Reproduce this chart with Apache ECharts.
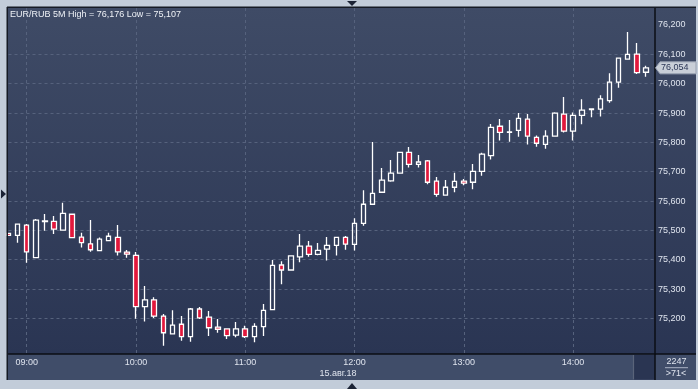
<!DOCTYPE html>
<html><head><meta charset="utf-8">
<script src="https://cdn.jsdelivr.net/npm/echarts@6/dist/echarts.min.js"></script>
<style>html,body{margin:0;padding:0;background:#c2ccd9;}#c{width:698px;height:389px;}</style>
</head><body><div id="c"></div>
<script>
const times = ['08:50','08:55','09:00','09:05','09:10','09:15','09:20','09:25','09:30','09:35','09:40','09:45','09:50','09:55',
'10:00','10:05','10:10','10:15','10:20','10:25','10:30','10:35','10:40','10:45','10:50','10:55',
'11:00','11:05','11:10','11:15','11:20','11:25','11:30','11:35','11:40','11:45','11:50','11:55',
'12:00','12:05','12:10','12:15','12:20','12:25','12:30','12:35','12:40','12:45','12:50','12:55',
'13:00','13:05','13:10','13:15','13:20','13:25','13:30','13:35','13:40','13:45','13:50','13:55',
'14:00','14:05','14:10','14:15','14:20','14:25','14:30','14:35','14:40','14:45'];
const opens  = [75.490,75.483,75.518,75.407,75.530,75.531,75.501,75.555,75.477,75.454,75.431,75.465,75.476,75.426,
75.415,75.240,75.263,75.208,75.147,75.180,75.138,75.232,75.204,75.170,75.164,75.143,
75.164,75.138,75.172,75.230,75.382,75.365,75.410,75.446,75.418,75.436,75.449,75.476,
75.452,75.524,75.589,75.630,75.669,75.695,75.766,75.725,75.737,75.668,75.620,75.647,
75.668,75.664,75.701,75.755,75.855,75.834,75.841,75.879,75.817,75.793,75.821,75.896,
75.838,75.892,75.912,75.913,75.942,76.005,76.084,76.101,76.039];
const closes = [75.483,75.521,75.427,75.535,75.532,75.504,75.558,75.475,75.458,75.434,75.470,75.480,75.427,75.419,
75.240,75.263,75.208,75.151,75.177,75.138,75.232,75.202,75.168,75.163,75.141,75.164,
75.138,75.173,75.227,75.381,75.365,75.413,75.446,75.418,75.432,75.449,75.476,75.453,
75.524,75.589,75.626,75.671,75.695,75.766,75.725,75.733,75.664,75.623,75.647,75.667,
75.661,75.701,75.760,75.851,75.834,75.836,75.882,75.821,75.797,75.821,75.900,75.838,
75.892,75.910,75.914,75.948,76.005,76.087,76.100,76.038,76.054];
const lows   = [75.482,75.458,75.390,75.407,75.499,75.488,75.499,75.474,75.442,75.427,75.430,75.465,75.414,75.407,
75.199,75.189,75.201,75.107,75.145,75.124,75.120,75.198,75.140,75.151,75.130,75.136,
75.133,75.119,75.140,75.229,75.316,75.364,75.391,75.410,75.415,75.397,75.414,75.434,
75.431,75.516,75.589,75.629,75.666,75.694,75.714,75.714,75.657,75.615,75.619,75.630,
75.654,75.640,75.686,75.742,75.806,75.802,75.819,75.793,75.785,75.778,75.820,75.834,
75.806,75.862,75.886,75.888,75.935,75.986,76.082,76.033,76.024];
const highs  = [75.491,75.522,75.522,75.539,75.556,75.549,75.594,75.556,75.492,75.535,75.476,75.492,75.518,75.433,
75.426,75.310,75.272,75.215,75.228,75.208,75.235,75.239,75.225,75.198,75.165,75.188,
75.175,75.183,75.249,75.399,75.395,75.414,75.488,75.464,75.457,75.477,75.477,75.481,
75.541,75.637,75.801,75.713,75.740,75.767,75.784,75.757,75.740,75.682,75.672,75.696,
75.675,75.726,75.765,75.863,75.880,75.876,75.900,75.897,75.823,75.841,75.903,75.955,
75.902,75.947,75.915,75.961,76.036,76.087,76.176,76.139,76.061];
const xLabelTimes = ['09:00','10:00','11:00','12:00','13:00','14:00'];
const yLabelValues = [75.2,75.3,75.4,75.5,75.6,75.7,75.8,75.9,76.0,76.1,76.2];
const yGridValues = [75.2,75.3,75.4,75.5,75.6,75.7,75.8,75.9,76.0,76.1];
const lastPrice = 76.054;
const titleText = 'EUR/RUB 5M High = 76,176 Low = 75,107';
const dateText = '15.авг.18';
const cornerTop = '2247';
const cornerBottom = '>71<';

const FONT = 'Liberation Sans, Arial, sans-serif';
const fmt = v => v.toFixed(3).replace('.', ',');
const chart = echarts.init(document.getElementById('c'), null, {renderer:'canvas'});
const isHour = (i, v) => xLabelTimes.indexOf(v) >= 0;
chart.setOption({
  animation: false,
  grid: {left: 8.5, right: 43, top: 8, bottom: 35, containLabel: false},
  xAxis: {
    type: 'category', data: times, boundaryGap: false,
    axisLine: {show: true, lineStyle: {color: '#0b0e15', width: 1.5}},
    axisTick: {show: false},
    axisLabel: {interval: isHour, color: '#dfe4ee', fontSize: 9, fontFamily: FONT, margin: 4},
    splitLine: {show: true, interval: isHour, lineStyle: {color: '#56627d', type: [3, 3], width: 1}}
  },
  yAxis: {
    type: 'value', position: 'right', min: 75.0786, max: 76.258, scale: true,
    axisLine: {show: true, lineStyle: {color: '#0b0e15', width: 1.5}},
    axisTick: {show: false, customValues: yGridValues},
    axisLabel: {customValues: yLabelValues, formatter: fmt, color: '#dfe4ee', fontSize: 9, fontFamily: FONT, margin: 3},
    splitLine: {show: true, lineStyle: {color: '#56627d', type: [3, 3], width: 1}}
  },
  series: [{
    type: 'candlestick',
    data: opens.map((o, i) => [o, closes[i], lows[i], highs[i]]),
    barWidth: 5,
    clip: true,
    itemStyle: {color: 'rgba(0,0,0,0)', color0: '#e2183c', borderColor: '#ffffff', borderColor0: '#ffffff', borderWidth: 1.3}
  }]
});

const py = chart.convertToPixel({yAxisIndex: 0}, lastPrice);
const dark = '#1b2335';
chart.setOption({
  graphic: [
    {type: 'rect', z: -100, shape: {x: 7, y: 7, width: 689, height: 347},
     style: {fill: {type: 'linear', x: 0, y: 0, x2: 0, y2: 1, colorStops: [{offset: 0, color: '#3f4b66'}, {offset: 1, color: '#2a3553'}]}}},
    {type: 'rect', z: -100, shape: {x: 7, y: 354, width: 689, height: 26}, style: {fill: '#404d69'}},
    {type: 'rect', z: -99, shape: {x: 633.5, y: 355, width: 21.5, height: 24.5}, style: {fill: '#2a3552'}},
    {type: 'line', z: -98, shape: {x1: 633.5, y1: 355, x2: 633.5, y2: 379.5}, style: {stroke: '#5a647a', lineWidth: 1.2}},
    {type: 'line', z: 50, shape: {x1: 7.25, y1: 7, x2: 7.25, y2: 380}, style: {stroke: '#151a24', lineWidth: 1.5}},
    {type: 'line', z: 50, shape: {x1: 7, y1: 7.25, x2: 696, y2: 7.25}, style: {stroke: '#151a24', lineWidth: 1.5}},
    {type: 'line', z: 50, shape: {x1: 655, y1: 354, x2: 655, y2: 380}, style: {stroke: '#0b0e15', lineWidth: 1.5}},
    {type: 'line', z: 50, shape: {x1: 655, y1: 354, x2: 696, y2: 354}, style: {stroke: '#0b0e15', lineWidth: 1.5}},
    {type: 'polygon', z: 50, shape: {points: [[347, 1], [357, 1], [352, 6]]}, style: {fill: dark}},
    {type: 'polygon', z: 50, shape: {points: [[1, 189.5], [1, 198.5], [6, 194]]}, style: {fill: dark}},
    {type: 'polygon', z: 50, shape: {points: [[347, 389], [357, 389], [352, 383]]}, style: {fill: dark}},
    {type: 'text', z: 60, x: 10, y: 15, style: {text: titleText, fill: '#eef1f6', fontSize: 9, fontFamily: FONT, verticalAlign: 'middle', align: 'left'}},
    {type: 'text', z: 60, x: 338, y: 373.7, style: {text: dateText, fill: '#dfe4ee', fontSize: 9, fontFamily: FONT, verticalAlign: 'middle', align: 'center'}},
    {type: 'text', z: 60, x: 676.5, y: 361.3, style: {text: cornerTop, fill: '#dfe4ee', fontSize: 9, fontFamily: FONT, verticalAlign: 'middle', align: 'center'}},
    {type: 'line', z: 60, shape: {x1: 665, y1: 367.7, x2: 688, y2: 367.7}, style: {stroke: '#aab3c4', lineWidth: 1}},
    {type: 'text', z: 60, x: 676, y: 373.7, style: {text: cornerBottom, fill: '#dfe4ee', fontSize: 9, fontFamily: FONT, verticalAlign: 'middle', align: 'center'}},
    {type: 'polygon', z: 70, shape: {points: [[655.5, py], [660, py - 6], [696, py - 6], [696, py + 6], [660, py + 6]]}, style: {fill: '#c9cfd8', stroke: '#98a1b2', lineWidth: 1}},
    {type: 'text', z: 71, x: 661, y: py, style: {text: fmt(lastPrice), fill: '#2b3656', fontSize: 9, fontFamily: FONT, verticalAlign: 'middle', align: 'left'}}
  ]
});
</script></body></html>
